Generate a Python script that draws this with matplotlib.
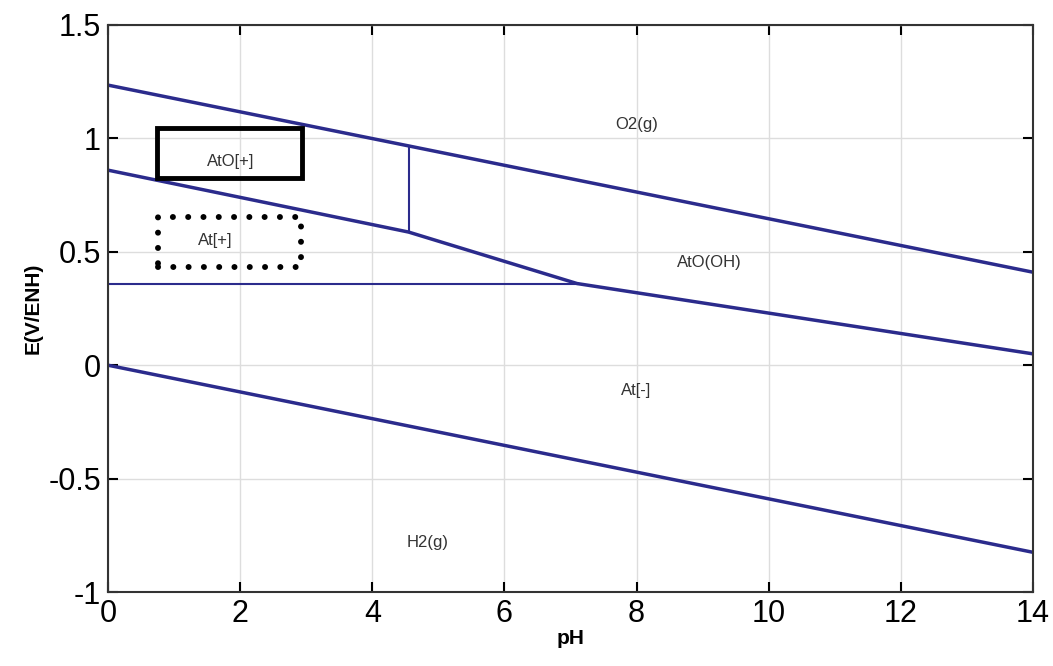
import matplotlib
matplotlib.use("Agg")
import matplotlib.pyplot as plt
from matplotlib.patches import Rectangle

plt.rcParams["font.family"] = ["Liberation Sans", "DejaVu Sans"]

# boundary lines (pH, E)
o2_ph = [0, 14]
o2_e = [1.235, 0.41]
h2_ph = [0, 14]
h2_e = [0.0, -0.825]
upper_ph = [0, 4.55, 7.1, 14]
upper_e = [0.86, 0.587, 0.36, 0.05]
horiz_ph = [0, 7.1]
horiz_e = [0.36, 0.36]
vert_ph = [4.55, 4.55]
vert_e = [0.587, 0.966]

# species labels
labels = ["O2(g)", "AtO(OH)", "At[-]", "H2(g)", "AtO[+]", "At[+]"]
label_ph = [8.0, 9.1, 8.0, 4.83, 1.85, 1.62]
label_e = [1.06, 0.455, -0.11, -0.78, 0.90, 0.55]

line_col = "#2b2b8c"

fig = plt.figure(figsize=(10.53, 6.66), dpi=100)
ax = fig.add_axes([108 / 1053, 1 - 592 / 666, 925 / 1053, 567 / 666])

ax.plot(o2_ph, o2_e, color=line_col, lw=2.5)
ax.plot(h2_ph, h2_e, color=line_col, lw=2.5)
ax.plot(upper_ph, upper_e, color=line_col, lw=2.5)
ax.plot(horiz_ph, horiz_e, color=line_col, lw=1.5)
ax.plot(vert_ph, vert_e, color=line_col, lw=1.5)

for t, x, y in zip(labels, label_ph, label_e):
    ax.text(x, y, t, fontsize=12, color="#333333", ha="center", va="center")

# boxes around the AtO[+] and At[+] labels
ax.add_patch(Rectangle((0.74, 0.825), 2.19, 0.221, fill=False,
                       edgecolor="black", lw=3.5, zorder=3))
ax.add_patch(Rectangle((0.76, 0.433), 2.16, 0.220, fill=False,
                       edgecolor="black", lw=4.3, linestyle=(0, (0.01, 2.55)),
                       capstyle="round", zorder=3))

ax.set_xlim(0, 14)
ax.set_ylim(-1, 1.5)
ax.set_xticks(range(0, 15, 2))
ax.set_yticks([-1, -0.5, 0, 0.5, 1, 1.5])
ax.set_yticklabels(["-1", "-0.5", "0", "0.5", "1", "1.5"])
ax.grid(True, color="#dddddd", lw=1)
ax.set_axisbelow(True)
ax.tick_params(direction="in", length=7, width=1.5, labelsize=22,
               top=True, right=True, pad=5)
for s in ax.spines.values():
    s.set_linewidth(1.5)
    s.set_color("#333333")

ax.set_xlabel("pH", fontsize=15, fontweight="bold", labelpad=0)
ax.set_ylabel("E(V/ENH)", fontsize=15, fontweight="bold", labelpad=4)

fig.savefig("out.png", dpi=100)
